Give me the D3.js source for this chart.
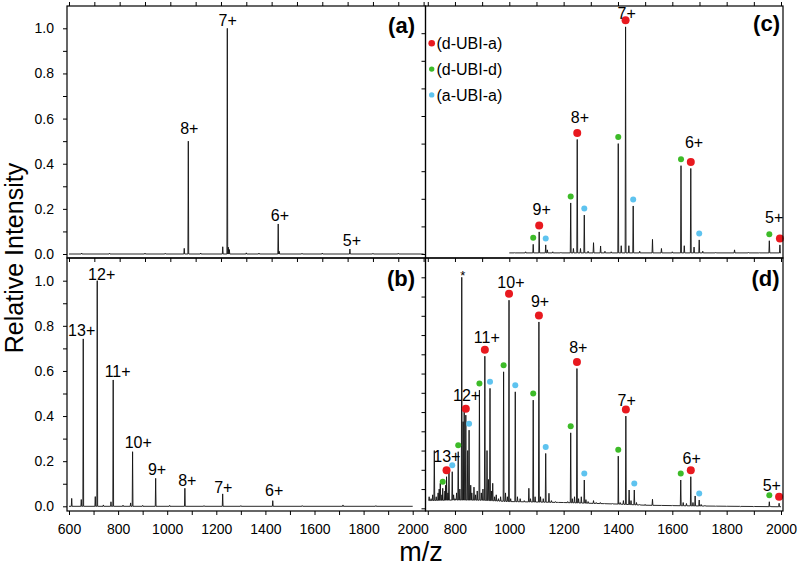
<!DOCTYPE html>
<html><head><meta charset="utf-8">
<script src="https://cdn.jsdelivr.net/npm/d3@7"></script>
<style>
body{margin:0;background:#fff}
svg{display:block;font-family:"Liberation Sans",Arial,Helvetica,sans-serif}
</style>
</head><body>
<svg id="chart" width="798" height="568"></svg>
<script>
// ---------------- DATA ----------------
// Panel (a): monomer spectrum, peaks [m/z, relative intensity]
const aPeaks = [[650,0.004],[760,0.003],[900,0.004],[980,0.003],[1055,0.025],[1071,0.50],[1120,0.004],
  [1207,0.032],[1225,1.0],[1229,0.03],[1233,0.02],[1300,0.005],[1350,0.004],[1426,0.133],[1430,0.012],
  [1520,0.003],[1600,0.004],[1709,0.022],[1800,0.003],[1900,0.003]];
const aBase = [[600,0],[2000,0]];
const aLabels = [["8+",1075,0.532],["7+",1226.5,1.012],["6+",1433,0.148],["5+",1717,0.034]];

// Panel (b)
const bPeaks = [[611,0.035],[650,0.03],[658,0.742],[707,0.043],[715,1.0],[740,0.006],[771,0.02],[780,0.56],
  [820,0.005],[851,0.015],[859,0.242],[900,0.004],[953,0.124],[1010,0.004],[1072,0.08],[1150,0.003],
  [1226,0.055],[1300,0.003],[1430,0.025],[1550,0.003],[1716,0.006],[1850,0.003]];
const bBase = [[600,0],[2000,0]];
const bLabels = [["13+",651.7,0.753],["12+",733,1.004],["11+",798,0.571],["10+",882,0.257],
  ["9+",958.5,0.139],["8+",1082,0.088],["7+",1228.5,0.059],["6+",1436,0.044]];

// Panel (c): species peaks
const cRed   = [[1110,0.08],[1250,0.415],[1428,0.823],[1668,0.31],[1996,0.033]];
const cGreen = [[1088,0.035],[1226,0.185],[1401,0.40],[1632,0.32],[1957,0.048]];
const cBlue  = [[1134,0.033],[1276,0.141],[1456,0.174],[1699,0.051]];
const cOther = [[1020,0.005],[1060,0.008],[1140,0.015],[1160,0.008],[1190,0.006],[1236,0.02],[1262,0.02],
  [1290,0.01],[1310,0.041],[1336,0.029],[1352,0.01],[1375,0.008],[1412,0.03],[1440,0.03],[1480,0.01],
  [1527,0.053],[1560,0.02],[1600,0.008],[1644,0.03],[1680,0.025],[1712,0.01],[1760,0.006],[1829,0.015],
  [1880,0.006],[1920,0.005]];
const cBase = [[1000,0.004],[2000,0.004]];
const cLabels = [["7+",1432,0.851],["8+",1260,0.475],["6+",1680,0.383],["9+",1119,0.141],["5+",1975,0.112]];

// Panel (d): species peaks
const dRed   = [[769,0.164],[840,0.484],[910,0.79],[999,1.081],[1109,0.968],[1249,0.726],[1429,0.479],[1668,0.164],[1993,0.026]];
const dGreen = [[755,0.104],[812,0.294],[890,0.614],[979,0.709],[1088,0.562],[1226,0.392],[1401,0.271],[1631,0.147],[1957,0.034]];
const dBlue  = [[790,0.19],[852,0.406],[929,0.623],[1022,0.605],[1134,0.285],[1276,0.147],[1460,0.095],[1699,0.043]];
const dOther = [[825,1.2],[705,0.06],[712,0.05],[718,0.07],[724,0.30],[731,0.06],[738,0.08],[742,0.1],[746,0.13],
  [752,0.07],[763,0.09],[766,0.12],[774,0.08],[778,0.2],[795,0.07],[800,0.05],[806,0.08],[818,0.1],
  [830,0.45],[834,0.5],[847,0.3],[858,0.12],[862,0.08],[870,0.11],[876,0.07],[882,0.09],[897,0.08],
  [903,0.1],[918,0.3],[923,0.15],[934,0.09],[939,0.13],[946,0.06],[952,0.07],[960,0.05],[968,0.06],
  [986,0.08],[993,0.06],[1005,0.05],[1030,0.06],[1040,0.05],[1055,0.04],[1072,0.104],[1078,0.05],
  [1095,0.06],[1115,0.06],[1125,0.05],[1146,0.078],[1155,0.04],[1170,0.035],[1180,0.03],[1200,0.03],
  [1215,0.035],[1232,0.05],[1240,0.06],[1255,0.05],[1265,0.06],[1282,0.045],[1290,0.035],[1310,0.04],
  [1320,0.03],[1335,0.03],[1350,0.025],[1380,0.025],[1408,0.03],[1420,0.04],[1441,0.095],[1448,0.04],
  [1468,0.03],[1480,0.02],[1500,0.02],[1527,0.047],[1560,0.015],[1600,0.015],[1640,0.03],[1652,0.025],
  [1676,0.03],[1684,0.064],[1706,0.02],[1720,0.015],[1760,0.01],[1800,0.01],[1850,0.008],[1900,0.008],[1962,0.012]];
const dBase = [[703,0.04],[800,0.043],[900,0.042],[1000,0.035],[1200,0.03],[1400,0.022],[1500,0.016],[1700,0.012],[2000,0.008]];
const dLabels = [["10+",1006,1.143],["9+",1113,1.048],["11+",917,0.858],["8+",1254,0.809],["12+",843,0.555],
  ["7+",1432,0.532],["13+",770,0.238],["6+",1671,0.23],["5+",1966,0.091]];
const dStar = ["*",828.5,1.185];

// Legend
const legendNames = ["(d-UBI-a)","(d-UBI-d)","(a-UBI-a)"];

// Ticks
const yTicksAB = [0,0.1,0.2,0.3,0.4,0.5,0.6,0.7,0.8,0.9,1.0];
const yLabelsAB = [0,0.2,0.4,0.6,0.8,1.0];
const yTicksC = [0,0.1,0.2,0.3,0.4,0.5,0.6,0.7,0.8];
const yTicksD = [0,0.1,0.2,0.3,0.4,0.5,0.6,0.7,0.8,0.9,1.0,1.1,1.2];
const xTicksL = [600,700,800,900,1000,1100,1200,1300,1400,1500,1600,1700,1800,1900,2000];
const xLabelsL = [600,800,1000,1200,1400,1600,1800,2000];
const xTicksR = [700,800,900,1000,1100,1200,1300,1400,1500,1600,1700,1800,1900,2000];
const xLabelsR = [800,1000,1200,1400,1600,1800,2000];

// ---------------- DRAWING ----------------
const COLORS = {red:"#e8191f", green:"#3dbb28", blue:"#5ec3ef"};
const svg = d3.select("#chart");
const L = [67, 425.5], R = [425.5, 783], T = [6, 258], B = [258, 511];

const panels = {
  a: {xr:L, yr:T, x:d3.scaleLinear().domain([600,2000]).range([69,423.6]), y:d3.scaleLinear().domain([0,1]).range([254,28.3])},
  b: {xr:L, yr:B, x:d3.scaleLinear().domain([600,2000]).range([69,412.7]), y:d3.scaleLinear().domain([0,1]).range([506.3,280.7])},
  c: {xr:R, yr:T, x:d3.scaleLinear().domain([1000,2000]).range([509.3,781]), y:d3.scaleLinear().domain([0,0.1]).range([254,226.4])},
  d: {xr:R, yr:B, x:d3.scaleLinear().domain([1000,2000]).range([509.3,781]), y:d3.scaleLinear().domain([0,0.1]).range([508.3,489.05])}
};

const defs = svg.append("defs");
Object.entries(panels).forEach(([k,p]) => {
  defs.append("clipPath").attr("id","clip-"+k).append("rect")
    .attr("x",p.xr[0]).attr("y",p.yr[0]).attr("width",p.xr[1]-p.xr[0]).attr("height",p.yr[1]-p.yr[0]);
});

function spectrum(k, peaks, base) {
  const p = panels[k], w = 1.6;
  const bl = d3.scaleLinear().domain(base.map(d=>d[0])).range(base.map(d=>d[1])).clamp(true);
  const pts = base.map(d=>[d[0],d[1]]);
  peaks.forEach(([m,h]) => { pts.push([m-w, bl(m-w)], [m, h], [m+w, bl(m+w)]); });
  pts.sort((a,b)=>a[0]-b[0]);
  svg.append("path").attr("clip-path","url(#clip-"+k+")")
    .attr("d", d3.line().x(d=>p.x(d[0])).y(d=>p.y(d[1]))(pts))
    .attr("fill","none").attr("stroke","#111").attr("stroke-width",0.9).attr("stroke-linejoin","miter");
}

spectrum("a", aPeaks, aBase);
spectrum("b", bPeaks, bBase);
spectrum("c", [...cRed,...cGreen,...cBlue,...cOther], cBase);
spectrum("d", [...dRed,...dGreen,...dBlue,...dOther], dBase);

function dots(k, arr, color, r, off) {
  const p = panels[k];
  svg.append("g").selectAll("circle").data(arr).join("circle")
    .attr("cx", d=>p.x(d[0])).attr("cy", d=>p.y(d[1]) - off).attr("r", r).attr("fill", color);
}
dots("c", cGreen, COLORS.green, 3, 6.5);
dots("c", cBlue, COLORS.blue, 3, 6.5);
dots("c", cRed, COLORS.red, 4, 6.5);
dots("d", dGreen, COLORS.green, 3, 6.5);
dots("d", dBlue, COLORS.blue, 3, 6.5);
dots("d", dRed, COLORS.red, 4, 6.5);

function labels(k, arr, size) {
  const p = panels[k];
  svg.append("g").selectAll("text").data(arr).join("text")
    .attr("x", d=>p.x(d[1])).attr("y", d=>p.y(d[2]))
    .attr("text-anchor","middle").attr("font-size", size).attr("fill","#000").text(d=>d[0]);
}
labels("a", aLabels, 16);
labels("b", bLabels, 16);
labels("c", cLabels, 16);
labels("d", dLabels, 16);
labels("d", [dStar], 13);

// Frames
Object.values(panels).forEach(p => {
  svg.append("rect").attr("x",p.xr[0]).attr("y",p.yr[0]).attr("width",p.xr[1]-p.xr[0]).attr("height",p.yr[1]-p.yr[0])
    .attr("fill","none").attr("stroke","#000").attr("stroke-width",1.2);
});

function axis(gen, tx, ty) {
  const g = svg.append("g").attr("transform",`translate(${tx},${ty})`).call(gen);
  g.select(".domain").remove();
  g.selectAll(".tick line").attr("stroke","#000").attr("stroke-width",1);
  g.selectAll(".tick text").attr("font-size",14).attr("font-family",'"Liberation Sans",Arial,Helvetica,sans-serif').attr("fill","#000");
  return g;
}
const fmtY = set => d => set.some(v=>Math.abs(v-d)<1e-9) ? d3.format(".1f")(d) : "";
const fmtX = set => d => set.includes(d) ? String(d) : "";

// y axes
axis(d3.axisLeft(panels.a.y).tickValues(yTicksAB).tickFormat(fmtY(yLabelsAB)).tickSize(4).tickPadding(9), L[0], 0);
axis(d3.axisLeft(panels.b.y).tickValues(yTicksAB).tickFormat(fmtY(yLabelsAB)).tickSize(4).tickPadding(9), L[0], 0);
axis(d3.axisLeft(panels.c.y).tickValues(yTicksC).tickFormat("").tickSize(4), R[0], 0);
axis(d3.axisLeft(panels.d.y).tickValues(yTicksD).tickFormat("").tickSize(4), R[0], 0);
// x axes
axis(d3.axisTop(panels.a.x).tickValues(xTicksL).tickFormat("").tickSize(4), 0, T[0]);
axis(d3.axisBottom(panels.a.x).tickValues(xTicksL).tickFormat("").tickSize(4), 0, T[1]);
axis(d3.axisBottom(panels.b.x).tickValues(xTicksL).tickFormat(fmtX(xLabelsL)).tickSize(4).tickPadding(9), 0, B[1]);
axis(d3.axisTop(panels.c.x).tickValues(xTicksR).tickFormat("").tickSize(4), 0, T[0]);
axis(d3.axisBottom(panels.c.x).tickValues(xTicksR).tickFormat("").tickSize(4), 0, T[1]);
axis(d3.axisBottom(panels.d.x).tickValues(xTicksR).tickFormat(fmtX(xLabelsR)).tickSize(4).tickPadding(9), 0, B[1]);

// Panel letters
[["(a)",415,32.7],["(b)",415,286],["(c)",780,30.5],["(d)",779.5,285.5]].forEach(([t,x,y]) => {
  svg.append("text").attr("x",x).attr("y",y).attr("text-anchor","end")
    .attr("font-size",22).attr("font-weight","bold").text(t);
});

// Legend
const legColors = [COLORS.red, COLORS.green, COLORS.blue];
const legR = [3.3, 2.7, 2.7];
legendNames.forEach((n,i) => {
  const cy = 43.3 + i*25.8;
  svg.append("circle").attr("cx",431.7).attr("cy",cy).attr("r",legR[i]).attr("fill",legColors[i]);
  svg.append("text").attr("x",436.5).attr("y",cy+5.6).attr("font-size",16).text(n);
});

// Axis titles
svg.append("text").attr("transform","translate(23,258) rotate(-90)").attr("text-anchor","middle")
  .attr("font-size",25).text("Relative Intensity");
svg.append("text").attr("x",421).attr("y",561).attr("text-anchor","middle").attr("font-size",27).text("m/z");
</script>
</body></html>
